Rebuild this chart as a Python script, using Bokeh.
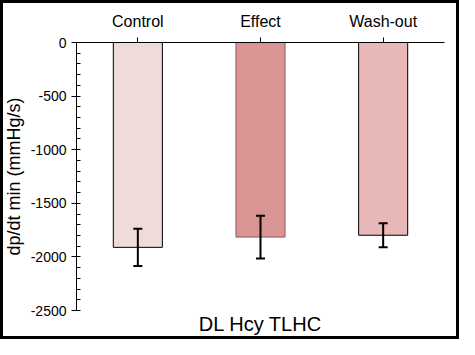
from bokeh.plotting import figure
from bokeh.models import (FactorRange, Range1d, SingleIntervalTicker, PrintfTickFormatter,
                          Whisker, TeeHead, ColumnDataSource, Title)
from bokeh.embed import file_html
from bokeh.resources import INLINE

categories = ["Control", "Effect", "Wash-out"]
means = [-1911, -1815, -1798]
errors = [173, 200, 113]
fill_colors = ["#f0dbdb", "#d99494", "#e8b7b7"]
line_colors = ["#000000", "#8c5a5a", "#000000"]
y_ticks_interval = 500
title_text = "DL Hcy TLHC"
y_label = "dp/dt min (mmHg/s)"

FONT = "Liberation Sans"

src = ColumnDataSource(dict(
    cat=categories, mean=means,
    upper=[m + e for m, e in zip(means, errors)],
    lower=[m - e for m, e in zip(means, errors)],
    fill=fill_colors, line=line_colors,
))

p = figure(width=459, height=339, x_range=FactorRange(*categories),
           y_range=Range1d(-2500, 0), x_axis_location="above",
           output_backend="svg", toolbar_location=None,
           min_border_left=72, min_border_right=15,
           min_border_top=42, min_border_bottom=0)
p.outline_line_color = None
p.grid.visible = False
p.border_fill_color = None
p.styles = {"box-shadow": "inset 0 0 0 3px black", "background": "white"}

p.vbar(x="cat", top="mean", bottom=0, width=0.4, source=src,
       fill_color="fill", line_color="line", line_width=1)

w = Whisker(base="cat", upper="upper", lower="lower", source=src,
            line_color="black", line_width=2, level="overlay",
            upper_head=TeeHead(size=9, line_width=2, line_color="black"),
            lower_head=TeeHead(size=9, line_width=2, line_color="black"))
p.add_layout(w)

# y axis
ya = p.yaxis[0]
ya.ticker = SingleIntervalTicker(interval=y_ticks_interval, num_minor_ticks=5)
ya.formatter = PrintfTickFormatter(format="%d")
ya.major_tick_out = 5
ya.major_tick_in = 0
ya.minor_tick_in = 4
ya.minor_tick_out = 0
ya.axis_line_color = "black"
ya.major_tick_line_color = "black"
ya.minor_tick_line_color = "black"
ya.major_label_text_font = FONT
ya.major_label_text_font_size = "14px"
ya.major_label_text_color = "black"
ya.major_label_standoff = 5
ya.axis_label = y_label
ya.axis_label_text_font = FONT
ya.axis_label_text_font_size = "18px"
ya.axis_label_text_font_style = "normal"
ya.axis_label_text_color = "black"
ya.axis_label_standoff = 4

# x axis (top)
xa = p.xaxis[0]
xa.major_tick_out = 5
xa.major_tick_in = 0
xa.axis_line_color = "black"
xa.major_tick_line_color = "black"
xa.major_label_text_font = FONT
xa.major_label_text_font_size = "16px"
xa.major_label_text_color = "black"
xa.major_label_standoff = 8

t = Title(text=title_text, align="center", text_font=FONT,
          text_font_size="20px", text_font_style="normal",
          text_color="black", standoff=0, offset=0)
p.add_layout(t, "below")
spacer = Title(text=" ", text_font_size="3px", standoff=0)
p.add_layout(spacer, "below")

open("out.html", "w").write(file_html(p, INLINE))
